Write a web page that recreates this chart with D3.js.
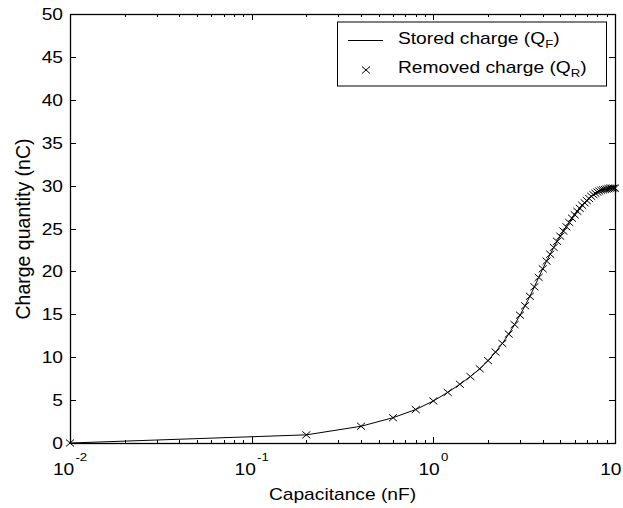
<!DOCTYPE html>
<html><head><meta charset="utf-8">
<script src="https://cdn.jsdelivr.net/npm/d3@7"></script>
<style>html,body{margin:0;padding:0;background:#fff;}svg{display:block;font-family:"Liberation Sans",Arial,Helvetica,sans-serif;}</style>
</head><body>
<script>
// ---- data ----
const capacitance = [0.01,0.2,0.4,0.6,0.8,1.0,1.2,1.4,1.6,1.8,2.0,2.2,2.4,2.6,2.8,3.0,3.2,3.4,3.6,3.8,4.0,4.2,4.4,4.6,4.8,5.0,5.2,5.4,5.6,5.8,6.0,6.2,6.4,6.6,6.8,7.0,7.2,7.4,7.6,7.8,8.0,8.2,8.4,8.6,8.8,9.0,9.2,9.4,9.6,9.8,10.0];
const storedCharge = [0,0.95,1.95,2.95,3.9,4.9,5.9,6.85,7.75,8.65,9.6,10.6,11.6,12.7,13.8,14.9,16.0,17.1,18.2,19.3,20.3,21.2,22.0,22.8,23.5,24.1,24.7,25.2,25.7,26.2,26.6,27.0,27.35,27.7,28.0,28.25,28.5,28.75,28.95,29.1,29.25,29.35,29.45,29.5,29.55,29.6,29.65,29.7,29.7,29.7,29.7];
const removedCharge = [0,0.95,1.95,2.95,3.9,4.9,5.9,6.85,7.75,8.65,9.6,10.6,11.6,12.7,13.8,14.9,16.0,17.1,18.2,19.3,20.3,21.2,22.0,22.8,23.5,24.1,24.7,25.2,25.7,26.2,26.6,27.0,27.35,27.7,28.0,28.25,28.5,28.75,28.95,29.1,29.25,29.35,29.45,29.5,29.55,29.6,29.65,29.7,29.7,29.7,29.7];
const yTicks = [0,5,10,15,20,25,30,35,40,45,50];
const xMajorTicks = [0.01,0.1,1,10];
const xTickExponents = ["-2","-1","0",""];
const seriesNames = ["Stored charge (Q", "Removed charge (Q"];
const seriesSubs = ["F","R"];
const xLabel = "Capacitance (nF)";
const yLabel = "Charge quantity (nC)";

// ---- layout ----
const W = 623, H = 508;
const L = 70, R = 615, T = 14, B = 443;
const SX = 1.2; // horizontal text stretch

const svg = d3.select("body").append("svg").attr("width", W).attr("height", H);
const x = d3.scaleLog().domain([0.01, 10]).range([L, R]);
const y = d3.scaleLinear().domain([0, 50]).range([B, T]);

function txt(px, py, str, size, anchor, rot, sx) {
  const g = svg.append("g").attr("transform", `translate(${px},${py}) scale(${sx || SX},1)` + (rot ? ` rotate(${rot})` : ""));
  return g.append("text").attr("font-size", size).attr("text-anchor", anchor || "start").attr("fill", "#000").text(str);
}

// minor x ticks
const minorTicks = [];
for (let e = -2; e < 1; e++) for (let m = 2; m <= 9; m++) minorTicks.push(m * Math.pow(10, e));
const tk = svg.append("g").attr("stroke", "#000").attr("stroke-width", 1);
minorTicks.forEach(v => {
  const px = Math.round(x(v)) + 0.5;
  tk.append("line").attr("x1", px).attr("x2", px).attr("y1", B).attr("y2", B - 3);
  tk.append("line").attr("x1", px).attr("x2", px).attr("y1", T).attr("y2", T + 3);
});
xMajorTicks.forEach(v => {
  const px = Math.round(x(v)) + 0.5;
  tk.append("line").attr("x1", px).attr("x2", px).attr("y1", B).attr("y2", B - 6);
  tk.append("line").attr("x1", px).attr("x2", px).attr("y1", T).attr("y2", T + 6);
});
yTicks.forEach(v => {
  const py = Math.round(y(v)) + 0.5;
  tk.append("line").attr("x1", L).attr("x2", L + 6).attr("y1", py).attr("y2", py);
  tk.append("line").attr("x1", R).attr("x2", R - 6).attr("y1", py).attr("y2", py);
});

// box
svg.append("rect").attr("x", L + 0.5).attr("y", T + 0.5).attr("width", R - L).attr("height", B - T)
  .attr("fill", "none").attr("stroke", "#000").attr("stroke-width", 1.3);

// y tick labels
yTicks.forEach(v => { txt(L - 7, y(v) + 6, String(v), 16, "end"); });

// x tick labels
xMajorTicks.forEach((v, i) => {
  const g = svg.append("g").attr("transform", `translate(${x(v)},475) scale(${SX},1)`);
  const base = g.append("text").attr("font-size", 16).attr("fill", "#000").text("10");
  const bw = base.node().getComputedTextLength();
  let sw = 0, sup = null;
  if (xTickExponents[i]) {
    sup = g.append("text").attr("font-size", 11).attr("fill", "#000").attr("y", -14).text(xTickExponents[i]);
    sw = sup.node().getComputedTextLength();
  } else { sw = 6; }
  const total = bw + 1 + sw;
  base.attr("x", -total / 2);
  if (sup) sup.attr("x", -total / 2 + bw + 1);
});

// axis labels
txt((L + R) / 2, 500, xLabel, 16, "middle");
txt(30, 229, yLabel, 19.5, "middle", -90, 1.0);

// line
const line = d3.line().x((d, i) => x(capacitance[i])).y(d => y(d));
svg.append("path").datum(storedCharge).attr("d", line).attr("fill", "none").attr("stroke", "#000").attr("stroke-width", 1);

// markers
function cross(g, cx, cy) {
  const hx = 4, hy = 3.5;
  g.append("path").attr("d", `M${cx-hx},${cy-hy}L${cx+hx},${cy+hy}M${cx-hx},${cy+hy}L${cx+hx},${cy-hy}`)
    .attr("stroke", "#000").attr("stroke-width", 1).attr("fill", "none");
}
const mk = svg.append("g");
removedCharge.forEach((v, i) => cross(mk, x(capacitance[i]), y(v)));

// legend
const lg = { x: 337, y: 21.5, w: 269, h: 64 };
svg.append("rect").attr("x", lg.x + 0.5).attr("y", lg.y + 0.5).attr("width", lg.w).attr("height", lg.h)
  .attr("fill", "#fff").attr("stroke", "#000").attr("stroke-width", 1);
svg.append("line").attr("x1", 348).attr("x2", 383).attr("y1", 40.5).attr("y2", 40.5).attr("stroke", "#000").attr("stroke-width", 1);
cross(svg, 366, 70);
[44, 73].forEach((by, i) => {
  const g = svg.append("g").attr("transform", `translate(398,${by}) scale(${SX},1)`);
  const t = g.append("text").attr("font-size", 16).attr("fill", "#000");
  t.append("tspan").text(seriesNames[i]);
  t.append("tspan").attr("font-size", 11).attr("dy", 4).text(seriesSubs[i]);
  t.append("tspan").attr("font-size", 16).attr("dy", -4).text(")");
});
</script>
</body></html>
